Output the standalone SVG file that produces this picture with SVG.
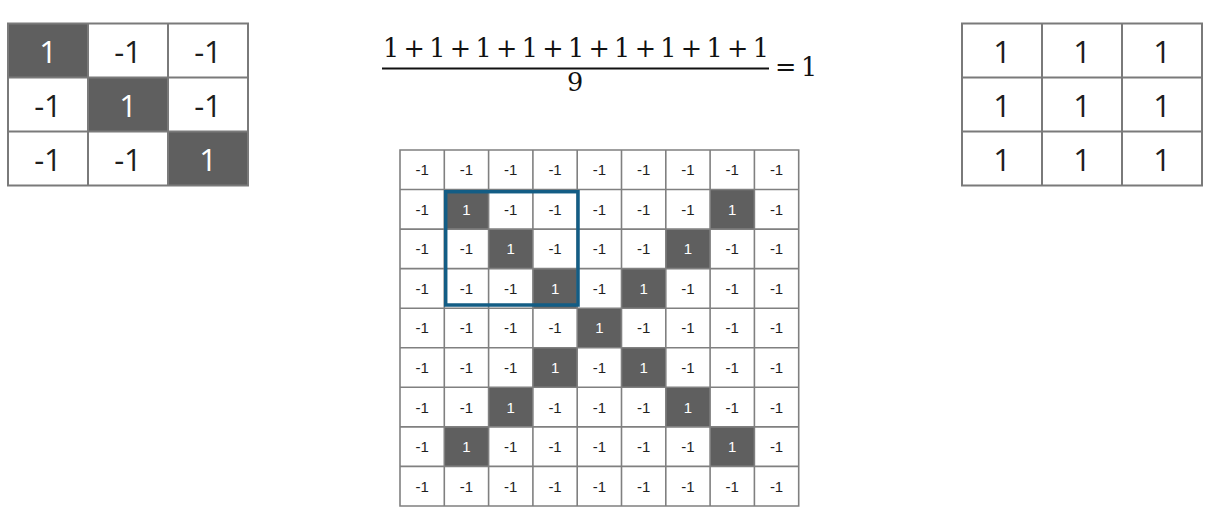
<svg xmlns="http://www.w3.org/2000/svg" width="1219" height="521" viewBox="0 0 1219 521">
<style>
.bg{fill:#ffffff}
.dk{fill:#5f5f5f}
.ln{fill:none;stroke:#7a7a7a;stroke-width:2}
.gl{fill:none;stroke:#808080;stroke-width:1.6}
.big{font-family:"Open Sans","Noto Sans","DejaVu Sans",sans-serif;font-size:31px;text-anchor:middle;fill:#1e1e1e}
.big.w{fill:#ffffff}
.sm{font-family:"Liberation Sans",Arial,sans-serif;font-size:15px;text-anchor:middle;fill:#1e1e1e}
.sm.w{fill:#ffffff}
.math{font-family:"DejaVu Serif","Liberation Serif",serif;font-size:25.5px;fill:#111111}
</style>
<rect x="0" y="0" width="1219" height="521" fill="#ffffff"/>

<g id="filter-matrix">
<rect class="bg" x="8" y="23.5" width="240" height="162"/>
<rect class="dk" x="8" y="23.5" width="80" height="54"/>
<rect class="dk" x="88" y="77.5" width="80" height="54"/>
<rect class="dk" x="168" y="131.5" width="80" height="54"/>
<path class="ln" d="M8 23.5H248V185.5H8Z M88 23.5V185.5 M168 23.5V185.5 M8 77.5H248 M8 131.5H248"/>
<text class="big w" x="48" y="62.5">1</text>
<text class="big" x="128" y="62.5">-1</text>
<text class="big" x="208" y="62.5">-1</text>
<text class="big" x="48" y="116.5">-1</text>
<text class="big w" x="128" y="116.5">1</text>
<text class="big" x="208" y="116.5">-1</text>
<text class="big" x="48" y="170.5">-1</text>
<text class="big" x="128" y="170.5">-1</text>
<text class="big w" x="208" y="170.5">1</text>
</g>

<g id="formula">
<text class="math" x="383" y="57" textLength="386" lengthAdjust="spacing">1 + 1 + 1 + 1 + 1 + 1 + 1 + 1 + 1</text>
<rect x="382" y="67.5" width="387" height="2" fill="#111111"/>
<text class="math" x="575" y="90.5" text-anchor="middle">9</text>
<text class="math" x="775" y="76">=</text>
<text class="math" x="801" y="76">1</text>
</g>

<g id="result-matrix">
<rect class="bg" x="962" y="23.5" width="240" height="162"/>
<path class="ln" d="M962 23.5H1202V185.5H962Z M1042 23.5V185.5 M1122 23.5V185.5 M962 77.5H1202 M962 131.5H1202"/>
<text class="big" x="1002" y="62.5">1</text>
<text class="big" x="1082" y="62.5">1</text>
<text class="big" x="1162" y="62.5">1</text>
<text class="big" x="1002" y="116.5">1</text>
<text class="big" x="1082" y="116.5">1</text>
<text class="big" x="1162" y="116.5">1</text>
<text class="big" x="1002" y="170.5">1</text>
<text class="big" x="1082" y="170.5">1</text>
<text class="big" x="1162" y="170.5">1</text>
</g>

<g id="image-grid">
<rect class="bg" x="400" y="150" width="398.7" height="355.95"/>
<rect class="dk" x="444.3" y="189.55" width="44.3" height="39.55"/>
<rect class="dk" x="710.1" y="189.55" width="44.3" height="39.55"/>
<rect class="dk" x="488.6" y="229.1" width="44.3" height="39.55"/>
<rect class="dk" x="665.8" y="229.1" width="44.3" height="39.55"/>
<rect class="dk" x="532.9" y="268.65" width="44.3" height="39.55"/>
<rect class="dk" x="621.5" y="268.65" width="44.3" height="39.55"/>
<rect class="dk" x="577.2" y="308.2" width="44.3" height="39.55"/>
<rect class="dk" x="532.9" y="347.75" width="44.3" height="39.55"/>
<rect class="dk" x="621.5" y="347.75" width="44.3" height="39.55"/>
<rect class="dk" x="488.6" y="387.3" width="44.3" height="39.55"/>
<rect class="dk" x="665.8" y="387.3" width="44.3" height="39.55"/>
<rect class="dk" x="444.3" y="426.85" width="44.3" height="39.55"/>
<rect class="dk" x="710.1" y="426.85" width="44.3" height="39.55"/>
<path class="gl" d="M400 150H798.7V505.95H400Z M444.3 150V505.95 M488.6 150V505.95 M532.9 150V505.95 M577.2 150V505.95 M621.5 150V505.95 M665.8 150V505.95 M710.1 150V505.95 M754.4 150V505.95 M400 189.55H798.7 M400 229.1H798.7 M400 268.65H798.7 M400 308.2H798.7 M400 347.75H798.7 M400 387.3H798.7 M400 426.85H798.7 M400 466.4H798.7"/>

<text class="sm" x="422.15" y="175.2">-1</text><text class="sm" x="466.45" y="175.2">-1</text><text class="sm" x="510.75" y="175.2">-1</text><text class="sm" x="555.05" y="175.2">-1</text><text class="sm" x="599.35" y="175.2">-1</text><text class="sm" x="643.65" y="175.2">-1</text><text class="sm" x="687.95" y="175.2">-1</text><text class="sm" x="732.25" y="175.2">-1</text><text class="sm" x="776.55" y="175.2">-1</text>

<text class="sm" x="422.15" y="214.7">-1</text><text class="sm w" x="466.45" y="214.7">1</text><text class="sm" x="510.75" y="214.7">-1</text><text class="sm" x="555.05" y="214.7">-1</text><text class="sm" x="599.35" y="214.7">-1</text><text class="sm" x="643.65" y="214.7">-1</text><text class="sm" x="687.95" y="214.7">-1</text><text class="sm w" x="732.25" y="214.7">1</text><text class="sm" x="776.55" y="214.7">-1</text>

<text class="sm" x="422.15" y="254.3">-1</text><text class="sm" x="466.45" y="254.3">-1</text><text class="sm w" x="510.75" y="254.3">1</text><text class="sm" x="555.05" y="254.3">-1</text><text class="sm" x="599.35" y="254.3">-1</text><text class="sm" x="643.65" y="254.3">-1</text><text class="sm w" x="687.95" y="254.3">1</text><text class="sm" x="732.25" y="254.3">-1</text><text class="sm" x="776.55" y="254.3">-1</text>

<text class="sm" x="422.15" y="293.8">-1</text><text class="sm" x="466.45" y="293.8">-1</text><text class="sm" x="510.75" y="293.8">-1</text><text class="sm w" x="555.05" y="293.8">1</text><text class="sm" x="599.35" y="293.8">-1</text><text class="sm w" x="643.65" y="293.8">1</text><text class="sm" x="687.95" y="293.8">-1</text><text class="sm" x="732.25" y="293.8">-1</text><text class="sm" x="776.55" y="293.8">-1</text>

<text class="sm" x="422.15" y="333.4">-1</text><text class="sm" x="466.45" y="333.4">-1</text><text class="sm" x="510.75" y="333.4">-1</text><text class="sm" x="555.05" y="333.4">-1</text><text class="sm w" x="599.35" y="333.4">1</text><text class="sm" x="643.65" y="333.4">-1</text><text class="sm" x="687.95" y="333.4">-1</text><text class="sm" x="732.25" y="333.4">-1</text><text class="sm" x="776.55" y="333.4">-1</text>

<text class="sm" x="422.15" y="372.9">-1</text><text class="sm" x="466.45" y="372.9">-1</text><text class="sm" x="510.75" y="372.9">-1</text><text class="sm w" x="555.05" y="372.9">1</text><text class="sm" x="599.35" y="372.9">-1</text><text class="sm w" x="643.65" y="372.9">1</text><text class="sm" x="687.95" y="372.9">-1</text><text class="sm" x="732.25" y="372.9">-1</text><text class="sm" x="776.55" y="372.9">-1</text>

<text class="sm" x="422.15" y="412.5">-1</text><text class="sm" x="466.45" y="412.5">-1</text><text class="sm w" x="510.75" y="412.5">1</text><text class="sm" x="555.05" y="412.5">-1</text><text class="sm" x="599.35" y="412.5">-1</text><text class="sm" x="643.65" y="412.5">-1</text><text class="sm w" x="687.95" y="412.5">1</text><text class="sm" x="732.25" y="412.5">-1</text><text class="sm" x="776.55" y="412.5">-1</text>

<text class="sm" x="422.15" y="452">-1</text><text class="sm w" x="466.45" y="452">1</text><text class="sm" x="510.75" y="452">-1</text><text class="sm" x="555.05" y="452">-1</text><text class="sm" x="599.35" y="452">-1</text><text class="sm" x="643.65" y="452">-1</text><text class="sm" x="687.95" y="452">-1</text><text class="sm w" x="732.25" y="452">1</text><text class="sm" x="776.55" y="452">-1</text>

<text class="sm" x="422.15" y="491.6">-1</text><text class="sm" x="466.45" y="491.6">-1</text><text class="sm" x="510.75" y="491.6">-1</text><text class="sm" x="555.05" y="491.6">-1</text><text class="sm" x="599.35" y="491.6">-1</text><text class="sm" x="643.65" y="491.6">-1</text><text class="sm" x="687.95" y="491.6">-1</text><text class="sm" x="732.25" y="491.6">-1</text><text class="sm" x="776.55" y="491.6">-1</text>
</g>

<g id="window">
<rect x="445.7" y="191.7" width="132.3" height="113.3" fill="none" stroke="#135d85" stroke-width="3.5"/>
</g>
</svg>
